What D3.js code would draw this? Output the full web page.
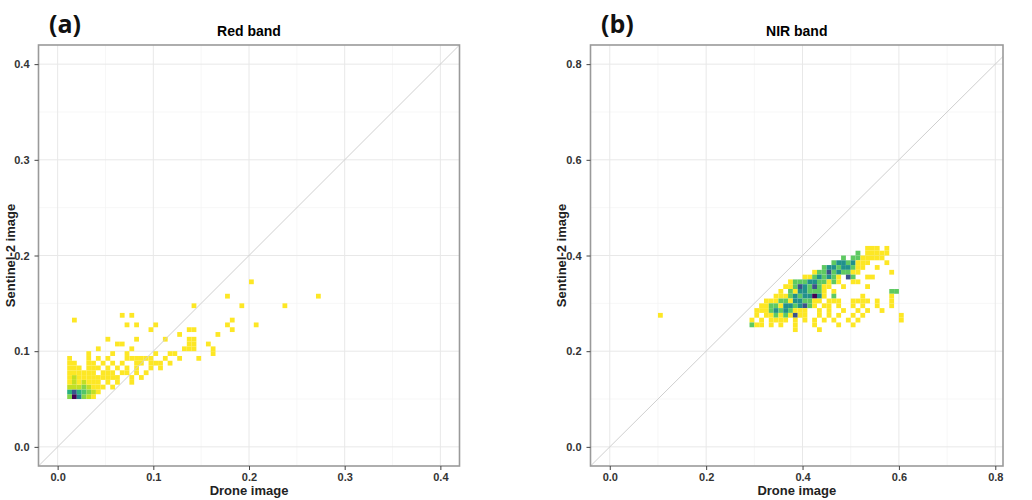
<!DOCTYPE html>
<html>
<head>
<meta charset="utf-8">
<script src="https://cdn.jsdelivr.net/npm/d3@7"></script>
<style>
body { margin: 0; background: #fff; }
svg { font-family: "Liberation Sans", Arial, sans-serif; }
</style>
</head>
<body>
<div id="chart"></div>
<script>
// Red band: 2d bins of 0.005, one row per y bin (lower edge)
var redBinY = [0.050, 0.055, 0.060, 0.065, 0.070, 0.075, 0.080, 0.085, 0.090, 0.095,
    0.100, 0.105, 0.110, 0.115, 0.120, 0.125, 0.130, 0.135, 0.145, 0.155, 0.170];
var redBinX = [
    [0.010, 0.015, 0.020, 0.025, 0.030, 0.035],
    [0.010, 0.015, 0.020, 0.025, 0.030, 0.035, 0.040],
    [0.010, 0.015, 0.020, 0.025, 0.030, 0.035, 0.040, 0.045, 0.055],
    [0.010, 0.015, 0.020, 0.025, 0.030, 0.035, 0.040, 0.050, 0.060, 0.075],
    [0.010, 0.015, 0.020, 0.025, 0.030, 0.035, 0.040, 0.045, 0.050, 0.055, 0.060, 0.075, 0.085],
    [0.010, 0.015, 0.020, 0.025, 0.030, 0.035, 0.045, 0.050, 0.055, 0.065, 0.070, 0.080, 0.090],
    [0.010, 0.015, 0.020, 0.030, 0.035, 0.040, 0.050, 0.060, 0.070, 0.080, 0.095, 0.105],
    [0.010, 0.015, 0.030, 0.035, 0.045, 0.055, 0.065, 0.080, 0.085, 0.095, 0.100, 0.105, 0.115],
    [0.010, 0.030, 0.040, 0.050, 0.070, 0.075, 0.080, 0.085, 0.090, 0.095, 0.110, 0.125, 0.145],
    [0.030, 0.055, 0.070, 0.100, 0.115, 0.120, 0.160],
    [0.040, 0.075, 0.130, 0.135, 0.140, 0.160],
    [0.060, 0.065, 0.135, 0.140, 0.155],
    [0.050, 0.080, 0.110, 0.135, 0.140],
    [0.125, 0.165],
    [0.095, 0.135, 0.140, 0.180],
    [0.070, 0.080, 0.100, 0.175, 0.205],
    [0.015, 0.180],
    [0.065, 0.075],
    [0.140, 0.190, 0.235],
    [0.175, 0.270],
    [0.200]
];
var redCount = [
    [3, 12, 7, 3, 2, 1],
    [5, 9, 5, 4, 3, 2, 1],
    [2, 2, 2, 3, 2, 1, 1, 1, 1],
    [1, 2, 1, 2, 1, 1, 1, 1, 1, 1],
    [1, 2, 1, 1, 1, 1, 1, 1, 1, 1, 1, 1, 1],
    [1, 1, 1, 1, 1, 1, 1, 1, 1, 1, 1, 1, 1],
    [1, 1, 1, 1, 1, 1, 1, 1, 1, 1, 1, 1],
    [1, 1, 1, 1, 1, 1, 1, 1, 1, 1, 1, 1, 1],
    [1, 1, 1, 1, 1, 1, 1, 1, 1, 1, 1, 1, 1],
    [1, 1, 1, 1, 1, 1, 1],
    [1, 1, 1, 1, 1, 1],
    [1, 1, 1, 1, 1],
    [1, 1, 1, 1, 1],
    [1, 1],
    [1, 1, 1, 1],
    [1, 1, 1, 1, 1],
    [1, 1],
    [1, 1],
    [1, 1, 1],
    [1, 1],
    [1]
];

// NIR band: 2d bins of 0.01
var nirBinY = [0.41, 0.40, 0.39, 0.38, 0.37, 0.36, 0.35, 0.34, 0.33, 0.32, 0.31,
    0.30, 0.29, 0.28, 0.27, 0.26, 0.25, 0.24];
var nirBinX = [
    [0.53, 0.54, 0.55, 0.57],
    [0.51, 0.53, 0.54, 0.55, 0.56, 0.57],
    [0.48, 0.50, 0.51, 0.52, 0.53, 0.54, 0.55, 0.56],
    [0.46, 0.47, 0.48, 0.49, 0.50, 0.51, 0.52, 0.53, 0.57],
    [0.44, 0.45, 0.46, 0.47, 0.48, 0.49, 0.50, 0.51, 0.52, 0.55],
    [0.42, 0.43, 0.44, 0.45, 0.46, 0.47, 0.48, 0.49, 0.50, 0.51, 0.58],
    [0.40, 0.41, 0.42, 0.43, 0.44, 0.45, 0.46, 0.47, 0.49, 0.50, 0.53, 0.54],
    [0.37, 0.38, 0.39, 0.40, 0.41, 0.42, 0.43, 0.44, 0.45, 0.46, 0.47, 0.50, 0.51],
    [0.36, 0.37, 0.38, 0.39, 0.40, 0.41, 0.42, 0.43, 0.44, 0.45, 0.48, 0.53],
    [0.35, 0.37, 0.38, 0.39, 0.40, 0.41, 0.42, 0.43, 0.44, 0.46, 0.58, 0.59],
    [0.34, 0.35, 0.36, 0.37, 0.38, 0.39, 0.40, 0.41, 0.42, 0.43, 0.44, 0.46, 0.52, 0.58],
    [0.32, 0.33, 0.34, 0.35, 0.36, 0.37, 0.38, 0.39, 0.40, 0.41, 0.42, 0.43, 0.45, 0.46, 0.47,
        0.50, 0.51, 0.52, 0.53, 0.55, 0.58],
    [0.31, 0.32, 0.33, 0.34, 0.35, 0.36, 0.37, 0.38, 0.39, 0.40, 0.41, 0.42, 0.44, 0.45, 0.47,
        0.50, 0.52, 0.55, 0.58],
    [0.30, 0.31, 0.32, 0.33, 0.34, 0.35, 0.36, 0.37, 0.38, 0.39, 0.40, 0.43, 0.45, 0.48, 0.51,
        0.53, 0.56],
    [0.10, 0.30, 0.32, 0.33, 0.34, 0.35, 0.36, 0.37, 0.38, 0.39, 0.40, 0.43, 0.45, 0.47, 0.50,
        0.52, 0.60],
    [0.29, 0.31, 0.33, 0.34, 0.35, 0.36, 0.38, 0.40, 0.42, 0.44, 0.46, 0.49, 0.51, 0.60],
    [0.29, 0.30, 0.31, 0.33, 0.35, 0.38, 0.42, 0.47, 0.50],
    [0.38, 0.43]
];
var nirCount = [
    [1, 1, 1, 1],
    [2, 1, 1, 1, 1, 1],
    [2, 2, 2, 1, 1, 1, 1, 1],
    [2, 3, 3, 2, 3, 1, 1, 1, 1],
    [2, 3, 3, 2, 3, 3, 2, 1, 1, 1],
    [1, 2, 2, 4, 2, 3, 2, 2, 1, 1, 1],
    [1, 1, 2, 3, 2, 3, 2, 1, 4, 2, 1, 1],
    [1, 2, 2, 2, 3, 3, 2, 2, 1, 2, 1, 1, 1],
    [1, 1, 2, 4, 3, 2, 4, 2, 1, 1, 1, 1],
    [1, 2, 1, 3, 3, 2, 2, 2, 1, 1, 2, 2],
    [1, 1, 1, 2, 3, 2, 3, 3, 5, 3, 1, 2, 1, 1],
    [1, 1, 1, 2, 2, 1, 3, 3, 2, 2, 1, 1, 1, 1, 1, 1, 1, 1, 1, 1, 1],
    [1, 1, 2, 2, 1, 3, 3, 2, 3, 4, 2, 1, 1, 1, 1, 1, 1, 1, 1],
    [1, 1, 1, 2, 3, 2, 3, 2, 1, 1, 1, 1, 1, 1, 1, 1, 1],
    [1, 1, 1, 1, 2, 1, 2, 1, 4, 1, 1, 1, 1, 1, 1, 1, 1],
    [1, 1, 1, 1, 1, 1, 1, 1, 1, 1, 1, 1, 1, 1],
    [2, 1, 1, 1, 1, 1, 1, 1, 1],
    [1, 1]
];

var redTicks = [0, 0.1, 0.2, 0.3, 0.4];
var nirTicks = [0, 0.2, 0.4, 0.6, 0.8];
var panelTags = ["(a)", "(b)"];
var panelTitles = ["Red band", "NIR band"];

var svg = d3.select("#chart").append("svg")
    .attr("width", 1032)
    .attr("height", 500);

function flatten(binY, binX, counts) {
    var out = [];
    binY.forEach(function(y, r) {
        binX[r].forEach(function(x, k) {
            out.push({x: x, y: y, n: counts[r][k]});
        });
    });
    return out;
}

function drawPanel(p) {
    var x = d3.scaleLinear().domain(p.xDomain).range([p.left, p.right]);
    var y = d3.scaleLinear().domain(p.yDomain).range([p.bottom, p.top]);
    var g = svg.append("g");

    var step = p.ticks[1] - p.ticks[0];
    var minor = p.ticks.slice(0, -1).map(function(t) { return t + step / 2; });

    g.selectAll(".minx").data(minor).enter().append("line")
        .attr("x1", x).attr("x2", x)
        .attr("y1", p.top).attr("y2", p.bottom)
        .attr("stroke", "#f3f3f3").attr("stroke-width", 0.7);
    g.selectAll(".miny").data(minor).enter().append("line")
        .attr("y1", y).attr("y2", y)
        .attr("x1", p.left).attr("x2", p.right)
        .attr("stroke", "#f3f3f3").attr("stroke-width", 0.7);
    g.selectAll(".majx").data(p.ticks).enter().append("line")
        .attr("x1", x).attr("x2", x)
        .attr("y1", p.top).attr("y2", p.bottom)
        .attr("stroke", "#e8e8e8").attr("stroke-width", 1);
    g.selectAll(".majy").data(p.ticks).enter().append("line")
        .attr("y1", y).attr("y2", y)
        .attr("x1", p.left).attr("x2", p.right)
        .attr("stroke", "#e8e8e8").attr("stroke-width", 1);

    var bins = flatten(p.binY, p.binX, p.counts);
    var maxN = d3.max(bins, function(d) { return d.n; });
    var color = d3.scaleSequential(function(t) { return d3.interpolateViridis(1 - t); })
        .domain([1, maxN]);

    g.selectAll(".bin").data(bins).enter().append("rect")
        .attr("x", function(d) { return x(d.x); })
        .attr("y", function(d) { return y(d.y + p.binWidth); })
        .attr("width", function(d) { return x(d.x + p.binWidth) - x(d.x); })
        .attr("height", function(d) { return y(d.y) - y(d.y + p.binWidth); })
        .attr("fill", function(d) { return color(d.n); });

    // 1:1 line
    var lo = Math.max(p.xDomain[0], p.yDomain[0]);
    var hi = Math.min(p.xDomain[1], p.yDomain[1]);
    g.append("line")
        .attr("x1", x(lo)).attr("y1", y(lo))
        .attr("x2", x(hi)).attr("y2", y(hi))
        .attr("stroke", "#cfcfcf").attr("stroke-width", 1);

    g.append("rect")
        .attr("x", p.left).attr("y", p.top)
        .attr("width", p.right - p.left).attr("height", p.bottom - p.top)
        .attr("fill", "none").attr("stroke", "#9a9a9a").attr("stroke-width", 1.6);

    var fmt = d3.format(".1f");
    var xAxis = g.append("g").attr("transform", "translate(0," + p.bottom + ")")
        .call(d3.axisBottom(x).tickValues(p.ticks).tickFormat(fmt).tickSize(4).tickPadding(3));
    var yAxis = g.append("g").attr("transform", "translate(" + p.left + ",0)")
        .call(d3.axisLeft(y).tickValues(p.ticks).tickFormat(fmt).tickSize(4).tickPadding(5));
    [xAxis, yAxis].forEach(function(a) {
        a.select(".domain").remove();
        a.selectAll(".tick line").attr("stroke", "#444");
        a.selectAll("text")
            .attr("fill", "#333")
            .style("font-size", "11px")
            .style("font-weight", "bold")
            .style("font-family", "'Liberation Sans', Arial, sans-serif");
    });

    var cx = (p.left + p.right) / 2;
    g.append("text")
        .attr("x", cx).attr("y", 36)
        .attr("text-anchor", "middle")
        .style("font-size", "14px").style("font-weight", "bold")
        .text(p.title);
    g.append("text")
        .attr("x", cx).attr("y", 495)
        .attr("text-anchor", "middle")
        .style("font-size", "13px").style("font-weight", "bold")
        .attr("fill", "#222")
        .text("Drone image");
    g.append("text")
        .attr("transform", "translate(" + p.yTitleX + "," + ((p.top + p.bottom) / 2) + ") rotate(-90)")
        .attr("text-anchor", "middle")
        .style("font-size", "13px").style("font-weight", "bold")
        .attr("fill", "#222")
        .text("Sentinel-2 image");
    g.append("text")
        .attr("x", p.tagX).attr("y", 33)
        .style("font-family", "'Open Sans', sans-serif")
        .style("font-size", "25px").style("font-weight", "bold")
        .attr("fill", "#111")
        .text(p.tag);
}

drawPanel({
    left: 38.5, right: 459.5, top: 45, bottom: 466,
    xDomain: [-0.02, 0.42], yDomain: [-0.02, 0.42],
    ticks: redTicks, binWidth: 0.005,
    binY: redBinY, binX: redBinX, counts: redCount,
    title: panelTitles[0], tag: panelTags[0], tagX: 49, yTitleX: 14.5
});

drawPanel({
    left: 590.5, right: 1003, top: 45, bottom: 466,
    xDomain: [-0.04, 0.816], yDomain: [-0.04, 0.84],
    ticks: nirTicks, binWidth: 0.01,
    binY: nirBinY, binX: nirBinX, counts: nirCount,
    title: panelTitles[1], tag: panelTags[1], tagX: 601, yTitleX: 565.5
});
</script>
</body>
</html>
